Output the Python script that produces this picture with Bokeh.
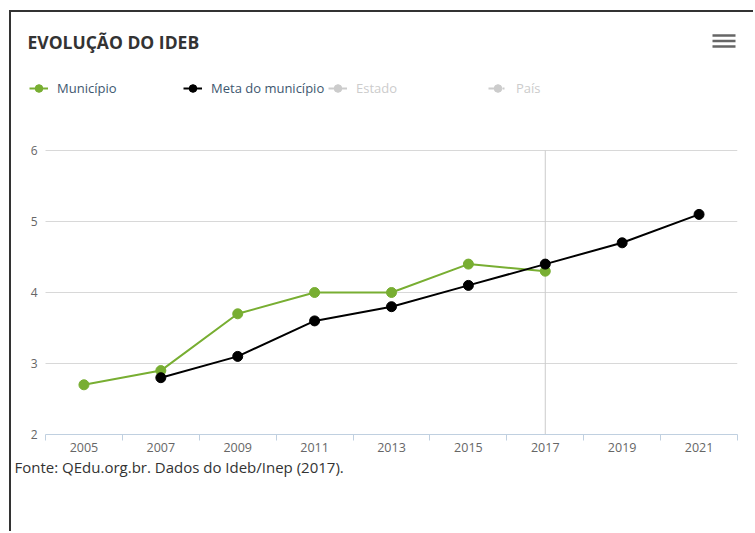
from bokeh.plotting import figure
from bokeh.models import (Range1d, FixedTicker, Label, Legend, LegendItem,
                          BoxAnnotation, Title, Grid, LinearAxis)
from bokeh.embed import file_html
from bokeh.resources import INLINE

# ---- data ----
years = ["2005", "2007", "2009", "2011", "2013", "2015", "2017", "2019", "2021"]
municipio_years = ["2005", "2007", "2009", "2011", "2013", "2015", "2017"]
municipio = [2.7, 2.9, 3.7, 4.0, 4.0, 4.4, 4.3]
meta_years = ["2007", "2009", "2011", "2013", "2015", "2017", "2019", "2021"]
meta = [2.8, 3.1, 3.6, 3.8, 4.1, 4.4, 4.7, 5.1]
# Estado and País are switched off in the original chart: values not shown
hidden_years = ["2005"]
estado = [float("nan")]
pais = [float("nan")]
y_ticks = [2, 3, 4, 5, 6]
highlight_year = "2017"
legend_labels = ["Município", "Meta do município", "Estado", "País"]

title_text = "EVOLUÇÃO DO IDEB"
source_text = "Fonte: QEdu.org.br. Dados do Ideb/Inep (2017)."

GREEN = "#78AE32"
HIDDEN = "#CCCCCC"
FONT = "Open Sans"

# ---- layout (page pixels) ----
OX, OY = 11, 12                 # canvas origin on page (after CSS margin+border)
W, H = 744, 521
PLOT_L, PLOT_R, PLOT_T, PLOT_B = 45, 737, 150, 434   # visible plot area
FL = 25                          # frame left (page), extended to host title/legend
FT = OY                          # frame top (page)

n = len(years)
ppx = (PLOT_R - PLOT_L) / n
ppy = (PLOT_B - PLOT_T) / (max(y_ticks) - min(y_ticks))
x_start = -0.5 - (PLOT_L - FL) / ppx
x_end = n - 0.5
y_start = min(y_ticks)
y_end = max(y_ticks) + (PLOT_T - FT) / ppy

mx = [years.index(y) for y in municipio_years]
tx = [years.index(y) for y in meta_years]
hxs = [years.index(y) for y in hidden_years]

p = figure(width=W, height=H, x_range=Range1d(x_start, x_end),
           y_range=Range1d(y_start, y_end),
           output_backend="svg", toolbar_location=None,
           min_border_left=FL - OX, min_border_right=OX + W - PLOT_R,
           min_border_top=0, min_border_bottom=OY + H - PLOT_B)
p.styles = {"margin-left": "9px", "margin-top": "10px",
            "border-left": "2px solid #333333", "border-top": "2px solid #333333"}
p.outline_line_color = None

# grid lines (only over the plot area)
p.xgrid.grid_line_color = None
p.ygrid.ticker = FixedTicker(ticks=y_ticks)
p.ygrid.grid_line_color = "#D8D8D8"
if "cross_bounds" in Grid.properties():
    p.ygrid.cross_bounds = (-0.5, n - 0.5)
else:
    p.ygrid.grid_line_color = None
    p.segment(x0=[-0.5] * len(y_ticks), x1=[n - 0.5] * len(y_ticks),
              y0=y_ticks, y1=y_ticks, line_color="#D8D8D8", line_width=1)

# y axis
p.yaxis.ticker = FixedTicker(ticks=y_ticks)
p.yaxis.axis_line_color = None
p.yaxis.major_tick_line_color = None
p.yaxis.minor_tick_line_color = None
p.yaxis.major_tick_out = 0
p.yaxis.major_tick_in = 0
p.yaxis.major_label_standoff = -(37 - FL)
p.yaxis.major_label_text_font = FONT
p.yaxis.major_label_text_font_size = "12px"
p.yaxis.major_label_text_color = "#666666"

# x axis
p.xaxis.ticker = FixedTicker(ticks=list(range(n)),
                             minor_ticks=[i - 0.5 for i in range(n + 1)])
p.xaxis.bounds = (-0.5, n - 0.5)
p.xaxis.major_label_overrides = {i: y for i, y in enumerate(years)}
p.xaxis.axis_line_color = "#C0D0E0"
p.xaxis.major_tick_line_color = None
p.xaxis.minor_tick_line_color = "#C0D0E0"
p.xaxis.minor_tick_in = 0
p.xaxis.minor_tick_out = 6
p.xaxis.major_tick_in = 0
p.xaxis.major_tick_out = 0
p.xaxis.major_label_standoff = 2
p.xaxis.major_label_text_font = FONT
p.xaxis.major_label_text_font_size = "12.5px"
p.xaxis.major_label_text_color = "#666666"

# crosshair at highlighted year
hx = years.index(highlight_year)
p.segment(x0=[hx], x1=[hx], y0=[min(y_ticks)], y1=[max(y_ticks)],
          line_color="#CCCCCC", line_width=1)

# series
mun_line = p.line(mx, municipio, line_color=GREEN, line_width=2)
mun_pts = p.scatter(mx, municipio, size=10, fill_color=GREEN, line_color=GREEN)
meta_line = p.line(tx, meta, line_color="black", line_width=2)
meta_pts = p.scatter(tx, meta, size=10, fill_color="black", line_color="black")

# series switched off in the original (legend entries only)
est_line = p.line(hxs, estado, line_color=HIDDEN, line_width=2)
est_pts = p.scatter(hxs, estado, size=8, fill_color=HIDDEN, line_color=HIDDEN)
pais_line = p.line(hxs, pais, line_color=HIDDEN, line_width=2, line_dash="7 7 2 10")
pais_pts = p.scatter(hxs, pais, size=8, fill_color=HIDDEN, line_color=HIDDEN)

legend_renderers = [[mun_line, mun_pts], [meta_line, meta_pts],
                    [est_line, est_pts], [pais_line, pais_pts]]
legend_colors = ["#3E576F", "#3E576F", HIDDEN, HIDDEN]
legend_left = [29, 183, 328, 488]   # page x of each legend symbol
for lab, rends, col, lx in zip(legend_labels, legend_renderers, legend_colors, legend_left):
    lg = Legend(items=[LegendItem(label=lab, renderers=rends)],
                orientation="horizontal", location=(lx - FL, PLOT_B - 100),
                label_text_font=FONT, label_text_font_size="13px",
                label_text_color=col,
                glyph_width=19, glyph_height=24, label_height=24, label_width=10,
                label_standoff=9, spacing=0, padding=0, margin=0,
                border_line_color=None, background_fill_alpha=0)
    p.add_layout(lg)

# chart title (inside the extended frame)
p.add_layout(Label(x=27 - FL, y=PLOT_B - 41, x_units="screen", y_units="screen",
                   text=title_text, text_font=FONT, text_font_style="bold",
                   text_font_size="17.5px", text_color="#333333",
                   text_baseline="middle", text_align="left"))

# menu icon
for yc in (35, 40.5, 46):
    p.add_layout(BoxAnnotation(left=712 - FL, right=735 - FL,
                               top=PLOT_B - (yc - 1.25), bottom=PLOT_B - (yc + 1.25),
                               left_units="screen", right_units="screen",
                               top_units="screen", bottom_units="screen",
                               fill_color="#666666", fill_alpha=1, line_color=None))

# empty spacer axis (no ticks) to push the source note to the bottom
spacer = LinearAxis(ticker=FixedTicker(ticks=[]), axis_line_color=None,
                    major_tick_line_color="#FFFFFF", minor_tick_line_color=None,
                    major_tick_in=0, major_tick_out=53, minor_tick_in=0, minor_tick_out=0,
                    major_label_standoff=0, major_label_text_color=None)
p.add_layout(spacer, "below")

# source note
p.add_layout(Title(text=source_text, align="left", offset=14 - FL, standoff=0,
                   text_font=FONT, text_font_style="normal",
                   text_font_size="15px", text_color="#333333"), "below")

open("out.html", "w").write(file_html(p, INLINE))
